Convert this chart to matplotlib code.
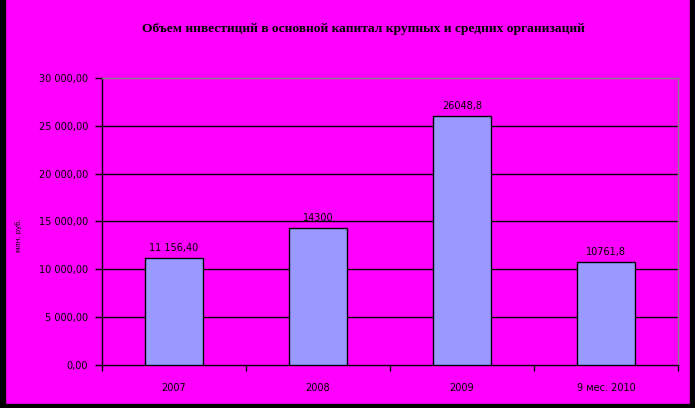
import numpy as np
import matplotlib.pyplot as plt
from matplotlib.patches import Rectangle

categories = ["2007", "2008", "2009", "9 мес. 2010"]
values = [11156.40, 14300, 26048.8, 10761.8]
value_labels = ["11 156,40", "14300", "26048,8", "10761,8"]
yticks = [0, 5000, 10000, 15000, 20000, 25000, 30000]
ytick_labels = ["0,00", "5 000,00", "10 000,00", "15 000,00",
                "20 000,00", "25 000,00", "30 000,00"]
title = "Объем инвестиций в основной капитал крупных и средних организаций"
ylabel = "млн. руб."

magenta = "#FF00FF"


def main():
    fig = plt.figure(figsize=(6.95, 4.08), dpi=100, facecolor=magenta)
    ax = fig.add_axes([102/695, 1-365/408, 576/695, 287/408])
    ax.set_facecolor(magenta)

    x = np.arange(len(categories))
    ax.bar(x, values, width=0.4, color="#9999FF", edgecolor="black",
           linewidth=1, zorder=3)
    for xi, v, lab in zip(x, values, value_labels):
        ax.text(xi, v + 500, lab, ha="center", va="bottom", fontsize=7,
                color="black", zorder=4)

    ax.set_xlim(-0.5, len(categories) - 0.5)
    ax.set_ylim(0, 30000)
    ax.set_yticks(yticks)
    ax.set_yticklabels(ytick_labels, fontsize=7)
    ax.set_xticks(x)
    ax.set_xticklabels(categories, fontsize=7)
    ax.set_xticks(np.arange(-0.5, len(categories)), minor=True)
    ax.tick_params(axis="x", which="major", length=0, pad=13)
    ax.tick_params(axis="x", which="minor", length=4, width=1, direction="out")
    ax.tick_params(axis="y", length=5, width=1, direction="out", pad=5)

    for t in yticks[1:-1]:
        ax.axhline(t, color="black", linewidth=1, zorder=1)

    ax.spines["left"].set_color("black")
    ax.spines["bottom"].set_color("black")
    ax.spines["top"].set_color("gray")
    ax.spines["right"].set_color("gray")
    for s in ax.spines.values():
        s.set_linewidth(1)

    fig.text(363/695, 1-29/408, title, ha="center", va="center",
             fontsize=9.7, fontweight="bold", family="Liberation Serif")
    fig.text(19/695, 1-235/408, ylabel, ha="center", va="center",
             rotation=90, fontsize=5)

    # black frame around the picture
    fig.patches.append(Rectangle((0, 0), 5/695, 1, transform=fig.transFigure,
                                 color="black", zorder=0))
    fig.patches.append(Rectangle((690/695, 0), 5/695, 1,
                                 transform=fig.transFigure, color="black",
                                 zorder=0))
    fig.patches.append(Rectangle((0, 0), 1, 4/408, transform=fig.transFigure,
                                 color="black", zorder=0))

    fig.savefig("out.png", dpi=100, facecolor=magenta)


if __name__ == "__main__":
    main()
